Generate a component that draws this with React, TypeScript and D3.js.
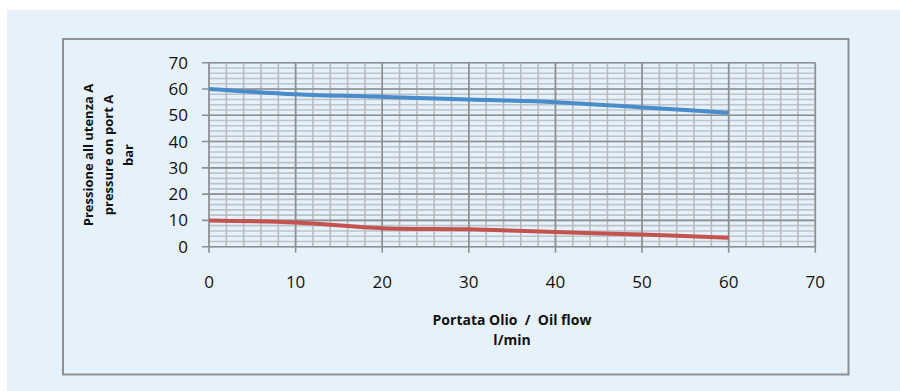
import React from "react";
import * as d3 from "d3";

const flow = [0, 10, 20, 30, 40, 50, 60];
const pressureBlue = [60, 58, 57, 56, 55, 53, 51];
const pressureRed = [10, 9.2, 7, 6.6, 5.6, 4.6, 3.4];
const xTicks = [0, 10, 20, 30, 40, 50, 60, 70];
const yTicks = [0, 10, 20, 30, 40, 50, 60, 70];
const yTitle = ["Pressione all utenza A", "pressure on port A", "bar"];
const xTitle = ["Portata Olio  /  Oil flow", "l/min"];

export default function App() {
  const x = d3.scaleLinear().domain([0, 70]).range([209, 815.3]);
  const y = d3.scaleLinear().domain([0, 70]).range([246.7, 62.7]);
  const minor = d3.range(0, 70.01, 2);
  const line = d3
    .line<number>()
    .x((_, i) => x(flow[i]))
    .y((d) => y(d))
    .curve(d3.curveCatmullRom.alpha(0.5));
  const font = "'Open Sans', sans-serif";
  return (
    <svg
      width={900}
      height={391}
      style={{ position: "absolute", left: 0, top: 0 }}
    >
      <rect x={0} y={0} width={900} height={391} fill="#ffffff" />
      <rect x={7} y={10} width={893} height={381} fill="#e7f1fa" />
      <rect
        x={63}
        y={39}
        width={785.5}
        height={335.5}
        fill="#e7f1fa"
        stroke="#8e9194"
        strokeWidth={2}
      />
      {/* minor grid */}
      {minor.map((v) => (
        <line
          key={"mh" + v}
          x1={x(0)}
          x2={x(70)}
          y1={y(v)}
          y2={y(v)}
          stroke="#bcc3ca"
          strokeWidth={1.6}
        />
      ))}
      {minor.map((v) => (
        <line
          key={"mv" + v}
          x1={x(v)}
          x2={x(v)}
          y1={y(0)}
          y2={y(70)}
          stroke="#b9bcbf"
          strokeWidth={1.6}
        />
      ))}
      {/* major grid */}
      {yTicks.map((v) => (
        <line
          key={"Mh" + v}
          x1={x(0) - 7}
          x2={x(70)}
          y1={y(v)}
          y2={y(v)}
          stroke="#8d9093"
          strokeWidth={1.6}
        />
      ))}
      {xTicks.map((v) => (
        <line
          key={"Mv" + v}
          x1={x(v)}
          x2={x(v)}
          y1={y(0) + 6}
          y2={y(70)}
          stroke="#8d9093"
          strokeWidth={1.6}
        />
      ))}
      {/* series */}
      <path
        d={line(pressureBlue) || ""}
        fill="none"
        stroke="#4a8bc9"
        strokeWidth={4}
      />
      <path
        d={line(pressureRed) || ""}
        fill="none"
        stroke="#c4524f"
        strokeWidth={4}
      />
      {/* tick labels */}
      {yTicks.map((v) => (
        <text
          key={"yl" + v}
          x={188}
          y={y(v) + 6}
          textAnchor="end"
          fontFamily={font}
          fontSize={17}
          fill="#111"
        >
          {v}
        </text>
      ))}
      {xTicks.map((v) => (
        <text
          key={"xl" + v}
          x={x(v)}
          y={288}
          textAnchor="middle"
          fontFamily={font}
          fontSize={17}
          fill="#111"
        >
          {v}
        </text>
      ))}
      {/* axis titles */}
      {xTitle.map((t, i) => (
        <text
          key={"xt" + i}
          x={512}
          y={325 + i * 20}
          textAnchor="middle"
          fontFamily={font}
          fontWeight="bold"
          fontSize={14}
          fill="#111"
          style={{ whiteSpace: "pre" }}
        >
          {t}
        </text>
      ))}
      {yTitle.map((t, i) => (
        <text
          key={"yt" + i}
          transform={`translate(${93 + i * 20},155) rotate(-90)`}
          textAnchor="middle"
          fontFamily={font}
          fontWeight="bold"
          fontSize={13}
          fill="#111"
        >
          {t}
        </text>
      ))}
    </svg>
  );
}
